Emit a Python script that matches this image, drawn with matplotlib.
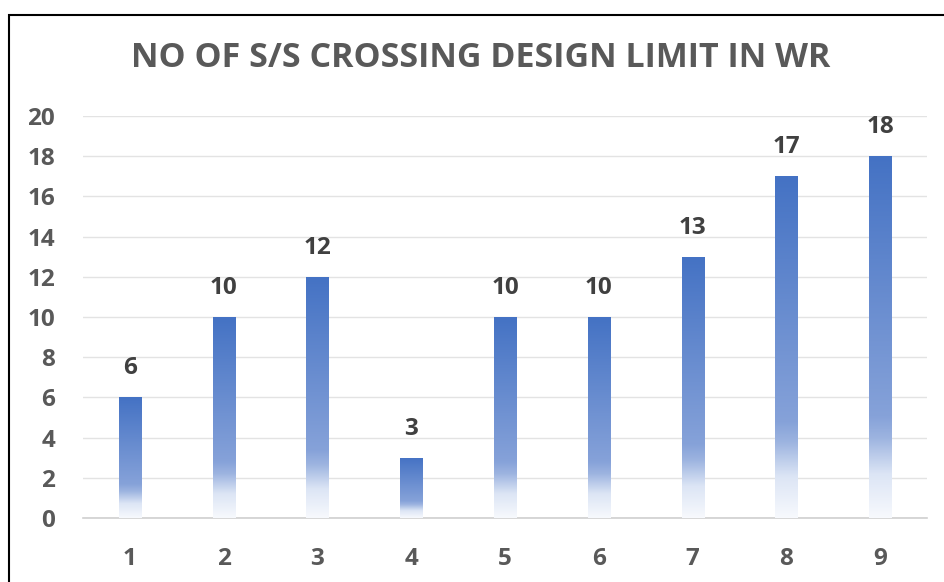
import numpy as np
import matplotlib
matplotlib.use("Agg")
from matplotlib import pyplot as plt
from matplotlib.colors import LinearSegmentedColormap
from matplotlib.patches import Rectangle

# chart data
categories = ["1", "2", "3", "4", "5", "6", "7", "8", "9"]
counts = [6, 10, 12, 3, 10, 10, 13, 17, 18]
yticks = [0, 2, 4, 6, 8, 10, 12, 14, 16, 18, 20]

title_text = "NO OF S/S CROSSING DESIGN LIMIT IN WR"
text_color = "#595959"

plt.rcParams['font.family'] = ['Open Sans', 'DejaVu Sans']

# vertical gradient for the bars: white-ish at the bottom, blue at top
grad = LinearSegmentedColormap.from_list(
    "bar_grad",
    [(0.0, "#F7F9FD"), (0.12, "#DCE5F5"), (0.22, "#9DB4E0"),
     (0.28, "#86A2D9"), (1.0, "#4472C4")])

fig = plt.figure(figsize=(9.44, 5.82), dpi=100)
ax = fig.add_axes([83 / 944, 1 - 518 / 582, 844 / 944, (518 - 116) / 582])

x = np.arange(len(categories))
bars = ax.bar(x, counts, width=0.235, color="none", edgecolor="none", zorder=3)

ramp = np.linspace(0, 1, 256).reshape(-1, 1)
for b in bars:
    x0, y0 = b.get_x(), b.get_y()
    w, h = b.get_width(), b.get_height()
    im = ax.imshow(ramp, cmap=grad, origin="lower", aspect="auto",
                   extent=[x0, x0 + w, y0, y0 + h], zorder=3)
    im.set_clip_path(b)

for xi, v in zip(x, counts):
    ax.text(xi, v + 0.85, str(v), ha="center", va="bottom", fontsize=17.5,
            fontweight="bold", color="#404040", zorder=4)

ax.set_xlim(-0.5, len(categories) - 0.5)
ax.set_ylim(0, 20)
ax.set_yticks(yticks)
ax.set_xticks(x)
ax.set_xticklabels(categories)
ax.grid(axis="y", color="#E3E3E3", linewidth=1.0, zorder=0)
ax.set_axisbelow(True)
for side in ["top", "right", "left"]:
    ax.spines[side].set_visible(False)
ax.spines["bottom"].set_color("#D0D0D0")
ax.spines["bottom"].set_linewidth(1.2)
ax.tick_params(axis="both", length=0, labelsize=17.5, labelcolor=text_color)
ax.tick_params(axis="y", pad=20)
ax.tick_params(axis="x", pad=21)
for lbl in ax.get_xticklabels() + ax.get_yticklabels():
    lbl.set_fontweight("bold")

fig.text(481 / 944, 1 - 58 / 582, title_text, ha="center", va="center",
         fontsize=24.5, fontweight="bold", color=text_color)

# chart border (only left and top visible in the crop)
fig.patches.append(Rectangle((8.5 / 944, -0.1), 1.2, 1 - 14.5 / 582 + 0.1,
                             transform=fig.transFigure, fill=False,
                             edgecolor="black", linewidth=1.5))

fig.savefig("out.png", dpi=100)
